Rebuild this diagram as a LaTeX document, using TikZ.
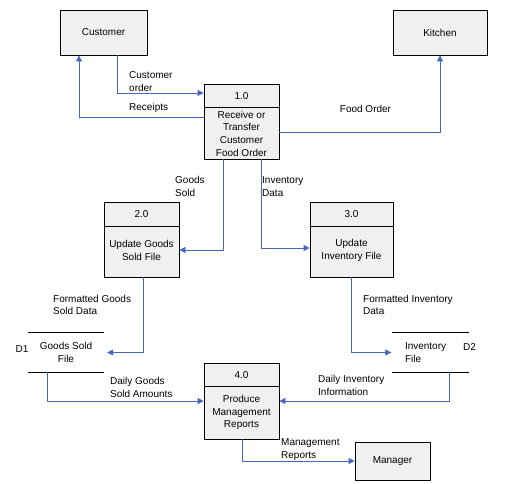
\documentclass[tikz,border=0pt]{standalone}
\usepackage{fontspec}
\setmainfont{Liberation Sans}
\usepackage{tikz}
\usetikzlibrary{arrows.meta}
\definecolor{BoxGray}{RGB}{240,240,240}
\definecolor{FlowBlue}{RGB}{68,102,187}

\begin{document}
\begin{tikzpicture}[x=1pt,y=-1pt,
    font=\fontsize{10}{12.7}\selectfont,
    ent/.style={draw,fill=BoxGray,line width=0.8pt,inner sep=0pt,minimum width=#1},
    proc/.style={draw,fill=BoxGray,line width=0.8pt,inner sep=0pt,minimum height=75pt,minimum width=#1},
    store/.style={inner sep=0pt,minimum width=76pt,minimum height=39pt,align=center},
    ptext/.style={align=center,inner sep=0pt},
    lbl/.style={anchor=west,align=left,inner sep=0pt},
    flow/.style={FlowBlue,line width=0.8pt,-{Triangle[length=6pt,width=6pt]}}]
                \useasboundingbox (0,0) rectangle (525,484);

                % external entities
                \node[ent=87pt,minimum height=45pt] (cust) at (103.5,32.5) {Customer};
                \node[ent=94pt,minimum height=45pt] (kitch) at (440,32.5) {Kitchen};
                \node[ent=75pt,minimum height=38pt] (mgr) at (392.5,461) {Manager};

                % processes
                \node[proc=75pt] (p1) at (241.5,121.5) {};
                \draw[line width=0.8pt] ([yshift=-24pt]p1.north west) -- ([yshift=-24pt]p1.north east);
                \node[ptext] (p1n) at ([yshift=-12pt]p1.north) {1.0};
                \node[ptext] (p1t) at ([yshift=-12pt]p1.center) {Receive or\\Transfer\\Customer\\Food Order};

                \node[proc=75pt] (p2) at (141.5,239.5) {};
                \draw[line width=0.8pt] ([yshift=-25pt]p2.north west) -- ([yshift=-25pt]p2.north east);
                \node[ptext] (p2n) at ([yshift=-12.5pt]p2.north) {2.0};
                \node[ptext] (p2t) at ([yshift=-11pt]p2.center) {Update Goods\\Sold File};

                \node[proc=83pt] (p3) at (351.5,239.5) {};
                \draw[line width=0.8pt] ([yshift=-25pt]p3.north west) -- ([yshift=-25pt]p3.north east);
                \node[ptext] (p3n) at ([yshift=-12.5pt]p3.north) {3.0};
                \node[ptext] (p3t) at ([yshift=-11pt]p3.center) {Update\\Inventory File};

                \node[proc=75pt,minimum height=76pt] (p4) at (241.5,401) {};
                \draw[line width=0.8pt] ([yshift=-24pt]p4.north west) -- ([yshift=-24pt]p4.north east);
                \node[ptext] (p4n) at ([yshift=-12pt]p4.north) {4.0};
                \node[ptext] (p4t) at ([yshift=-11.5pt]p4.center) {Produce\\Management\\Reports};

                % data stores
                \node[store] (d1) at (66,352.5) {Goods Sold\\File};
                \draw[line width=0.8pt] (d1.north west) -- (d1.north east);
                \draw[line width=0.8pt] (d1.south west) -- (d1.south east);
                \node[ptext] (d1id) at (22,349) {D1};

                \node[store,align=left,text width=51pt] (d2) at (430.5,352.5) {Inventory\\File};
                \draw[line width=0.8pt] (d2.north west) -- (d2.north east);
                \draw[line width=0.8pt] (d2.south west) -- (d2.south east);
                \node[ptext] (d2id) at (469.5,347) {D2};

                % flows
                \draw[flow] ([xshift=13.5pt]cust.south) |- ([yshift=28.5pt]p1.west);
                \draw[flow] ([yshift=4.5pt]p1.west) -| ([xshift=-24.5pt]cust.south);
                \draw[flow] ([yshift=-10.5pt]p1.east) -| (kitch.south);
                \draw[flow] ([xshift=-18.5pt]p1.south) |- ([yshift=-10.5pt]p2.east);
                \draw[flow] ([xshift=19.5pt]p1.south) |- ([yshift=-8.5pt]p3.west);
                \draw[flow,shorten >=3pt] ([xshift=1.5pt]p2.south) |- (d1.east);
                \draw[flow,shorten >=1pt] (p3.south) |- (d2.west);
                \draw[flow] ([xshift=-19pt]d1.south) |- (p4.west);
                \draw[flow] ([xshift=18.5pt]d2.south) |- (p4.east);
                \draw[flow] ([xshift=0.5pt]p4.south) |- (mgr.west);

                % flow labels
                \node[lbl] (l1) at (129,81.5) {Customer\\order};
                \node[lbl] (l2) at (129,108) {Receipts};
                \node[ptext] (l3) at (365.5,109) {Food Order};
                \node[lbl] (l4) at (175,186.5) {Goods\\Sold};
                \node[lbl] (l5) at (262,186.5) {Inventory\\Data};
                \node[lbl] (l6) at (53,305) {Formatted Goods\\Sold Data};
                \node[lbl] (l7) at (363,305) {Formatted Inventory\\Data};
                \node[lbl] (l8) at (110,387.5) {Daily Goods\\Sold Amounts};
                \node[lbl] (l9) at (318,385.5) {Daily Inventory\\Information};
                \node[lbl] (l10) at (281,449.5) {Management\\Reports};
            \end{tikzpicture}
\end{document}
